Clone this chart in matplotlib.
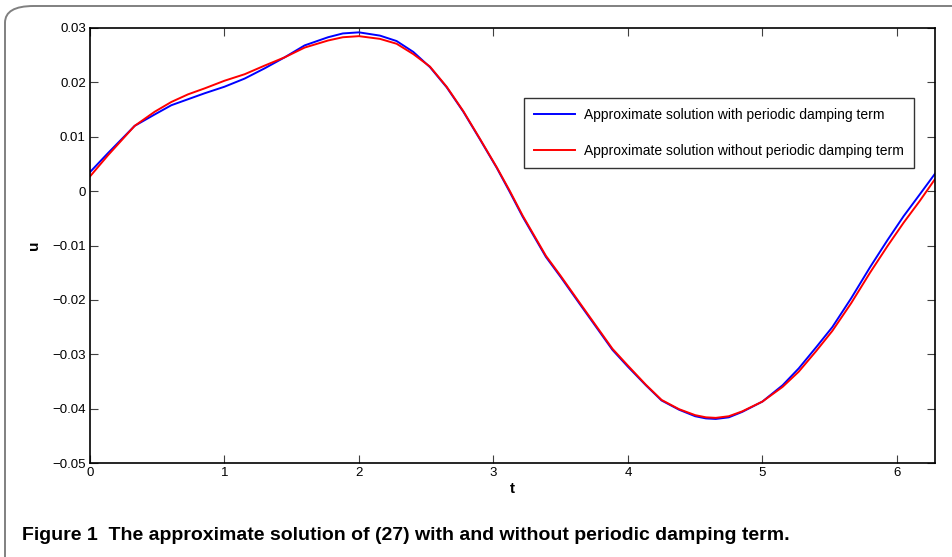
import matplotlib
matplotlib.use("Agg")
import numpy as np
import matplotlib.pyplot as plt
from matplotlib.patches import FancyBboxPatch

# values
t = [0, 0.134, 0.233, 0.332, 0.481, 0.605, 0.729, 0.853, 1.0, 1.15, 1.30, 1.447,
     1.596, 1.77, 1.88, 2.0, 2.156, 2.28, 2.404, 2.528, 2.652, 2.776, 2.90, 3.024,
     3.12, 3.217, 3.39, 3.5, 3.64, 3.885, 4.0, 4.133, 4.25, 4.38, 4.50, 4.58, 4.653,
     4.75, 4.85, 5.0, 5.15, 5.27, 5.40, 5.52, 5.66, 5.80, 5.93, 6.05, 6.17, 6.283]
u_with = [0.0035, 0.0070, 0.0095, 0.0120, 0.0141, 0.0158, 0.0169, 0.0180, 0.0192,
          0.0207, 0.0226, 0.0246, 0.0268, 0.0283, 0.0290, 0.0292, 0.0286, 0.0276,
          0.0256, 0.0228, 0.0191, 0.0146, 0.0095, 0.0043, -0.0001, -0.0047, -0.0121,
          -0.0158, -0.0207, -0.0292, -0.0323, -0.0357, -0.0385, -0.0402, -0.0414,
          -0.0418, -0.0419, -0.0416, -0.0406, -0.0387, -0.0357, -0.0326, -0.0287,
          -0.0250, -0.0197, -0.0140, -0.0090, -0.0046, -0.0006, 0.0032]
u_without = [0.0027, 0.0066, 0.0093, 0.0120, 0.0146, 0.0164, 0.0178, 0.0189, 0.0203,
             0.0215, 0.0231, 0.0246, 0.0264, 0.0277, 0.0283, 0.0285, 0.0280, 0.0271,
             0.0252, 0.0229, 0.0192, 0.0147, 0.0096, 0.0044, 0.0001, -0.0045, -0.0119,
             -0.0156, -0.0205, -0.0290, -0.0321, -0.0356, -0.0384, -0.0401, -0.0412,
             -0.0416, -0.0417, -0.0414, -0.0405, -0.0387, -0.0360, -0.0332, -0.0294,
             -0.0257, -0.0206, -0.0150, -0.0101, -0.0058, -0.0018, 0.0022]
x_ticks = [0, 1, 2, 3, 4, 5, 6]
y_ticks = [-0.05, -0.04, -0.03, -0.02, -0.01, 0, 0.01, 0.02, 0.03]
labels = ["Approximate solution with periodic damping term",
          "Approximate solution without periodic damping term"]
caption = "Figure 1  The approximate solution of (27) with and without periodic damping term."

plt.rcParams["font.family"] = ["Liberation Sans", "DejaVu Sans"]

fig = plt.figure(figsize=(9.53, 5.57), dpi=100)

# rounded frame around the figure panel (runs off the right and bottom edges)
frame = FancyBboxPatch((5 / 953, -0.05), 1.1, 1.05 - 6 / 557,
                       boxstyle="round,pad=0,rounding_size=0.03",
                       transform=fig.transFigure, facecolor="none",
                       edgecolor="#808080", linewidth=1.4, clip_on=False)
fig.patches.append(frame)

ax = fig.add_axes([90 / 953, 94 / 557, 845 / 953, 435 / 557])
ax.plot(t, u_with, color="#0000ff", linewidth=1.4, label=labels[0])
ax.plot(t, u_without, color="#ff0000", linewidth=1.4, label=labels[1])

ax.set_xlim(0, 2 * np.pi)
ax.set_ylim(-0.05, 0.03)
ax.set_xticks(x_ticks)
ax.set_yticks(y_ticks)
ax.set_yticklabels([("%g" % v).replace("-", "\u2212") for v in y_ticks])
ax.tick_params(direction="in", top=True, right=True, length=6, width=0.8,
               color="#404040", labelsize=9.5, pad=3)
for s in ax.spines.values():
    s.set_linewidth(1.2)

ax.set_xlabel("t", fontsize=11, fontweight="bold", labelpad=2)
ax.set_ylabel("u", fontsize=11, fontweight="bold", labelpad=8)

leg = ax.legend(loc="upper left", bbox_to_anchor=(0.5136, 0.839), fontsize=10,
                frameon=True, fancybox=False, edgecolor="black",
                handlelength=3.0, labelspacing=1.6, borderpad=0.7,
                handletextpad=0.65, borderaxespad=0)
leg.get_frame().set_linewidth(1.0)

fig.text(22 / 953, 1 - 535 / 557, caption, fontsize=14, fontweight="bold",
         va="center", ha="left")

fig.savefig("out.png", dpi=100)
